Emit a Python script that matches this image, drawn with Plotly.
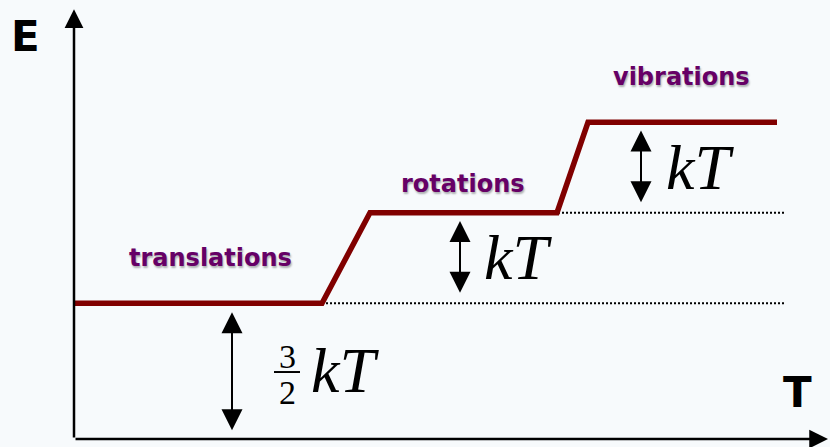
import plotly.graph_objects as go

# ---- data (E in units of kT, T in arbitrary units) ----
T_steps = [0.0, 24.8, 29.6, 48.3, 51.4, 70.3]
E_steps = [1.5, 1.5, 2.5, 2.5, 3.5, 3.5]
E_levels = [1.5, 2.5, 3.5]
level_names = ["translations", "rotations", "vibrations"]
gap_labels = ["kT", "kT", "kT"]

BG = "rgb(247,250,252)"
RED = "#800000"
PURPLE = "#660066"

fig = go.Figure()

# dotted reference lines
fig.add_trace(go.Scatter(x=[T_steps[1], 71.1], y=[E_levels[0], E_levels[0]], mode="lines",
                         line=dict(color="black", width=2, dash="2px,2px"), hoverinfo="skip"))
fig.add_trace(go.Scatter(x=[T_steps[2], 71.1], y=[E_levels[1], E_levels[1]], mode="lines",
                         line=dict(color="black", width=2, dash="2px,2px"), hoverinfo="skip"))
# energy curve
fig.add_trace(go.Scatter(x=T_steps, y=E_steps, mode="lines",
                         line=dict(color=RED, width=5.5), hoverinfo="skip"))

ann = []
# axes arrows
ann.append(dict(x=0, y=4.75, ax=0, ay=0, xref="x", yref="y", axref="x", ayref="y", text="",
                showarrow=True, arrowhead=2, arrowsize=1.5, arrowwidth=2.5, arrowcolor="black"))
ann.append(dict(x=75.4, y=0, ax=0, ay=0, xref="x", yref="y", axref="x", ayref="y", text="",
                showarrow=True, arrowhead=2, arrowsize=1.5, arrowwidth=2.5, arrowcolor="black"))
# double-headed gap arrows
gaps = [(15.8, 0.08, 1.40), (38.6, 1.60, 2.41), (56.7, 2.60, 3.41)]
for gx, y0, y1 in gaps:
    ann.append(dict(x=gx, y=y1, ax=gx, ay=y0, xref="x", yref="y", axref="x", ayref="y", text="",
                    showarrow=True, arrowhead=2, startarrowhead=2, arrowside="end+start",
                    arrowsize=2.1, startarrowsize=2.1, arrowwidth=2, arrowcolor="black"))

# axis labels
ann.append(dict(x=-4.9, y=4.45, xref="x", yref="y", text="<b>E</b>", showarrow=False,
                font=dict(family="DejaVu Sans", size=42, color="black")))
ann.append(dict(x=72.3, y=0.51, xref="x", yref="y", text="<b>T</b>", showarrow=False,
                font=dict(family="DejaVu Sans", size=42, color="black")))

# level names
name_pos = [(13.6, 2.0), (38.9, 2.82), (60.7, 4.0)]
for (nx, ny), name in zip(name_pos, level_names):
    ann.append(dict(x=nx, y=ny, xref="x", yref="y", text="<b>" + name + "</b>", showarrow=False,
                    font=dict(family="DejaVu Sans", size=24, color=PURPLE,
                              shadow="1px 2px 2px rgba(0,0,0,0.3)")))

# kT labels
kt_font = dict(family="Liberation Serif", size=64, color="black")
ann.append(dict(x=62.6, y=3.0, xref="x", yref="y", text="<i>" + gap_labels[2] + "</i>",
                showarrow=False, font=kt_font))
ann.append(dict(x=44.4, y=2.01, xref="x", yref="y", text="<i>" + gap_labels[1] + "</i>",
                showarrow=False, font=kt_font))
ann.append(dict(x=27.1, y=0.76, xref="x", yref="y", text="<i>" + gap_labels[0] + "</i>",
                showarrow=False, font=kt_font))
frac_font = dict(family="Liberation Serif", size=34, color="black")
ann.append(dict(x=21.3, y=0.91, xref="x", yref="y", text="3", showarrow=False, font=frac_font))
ann.append(dict(x=21.3, y=0.51, xref="x", yref="y", text="2", showarrow=False, font=frac_font))

fig.add_shape(type="line", x0=20.0, x1=22.6, y0=0.74, y1=0.74, xref="x", yref="y",
              line=dict(color="black", width=2))

fig.update_layout(
    width=830, height=447,
    margin=dict(l=0, r=0, t=0, b=0),
    paper_bgcolor=BG, plot_bgcolor=BG,
    showlegend=False,
    annotations=ann,
    xaxis=dict(range=[-7.4, 75.6], visible=False, fixedrange=True),
    yaxis=dict(range=[-0.0884, 4.851], visible=False, fixedrange=True),
)

fig.write_html("out.html", config={"displayModeBar": False},
               post_script="document.body.style.margin='0';document.body.style.background='" + BG + "';")
